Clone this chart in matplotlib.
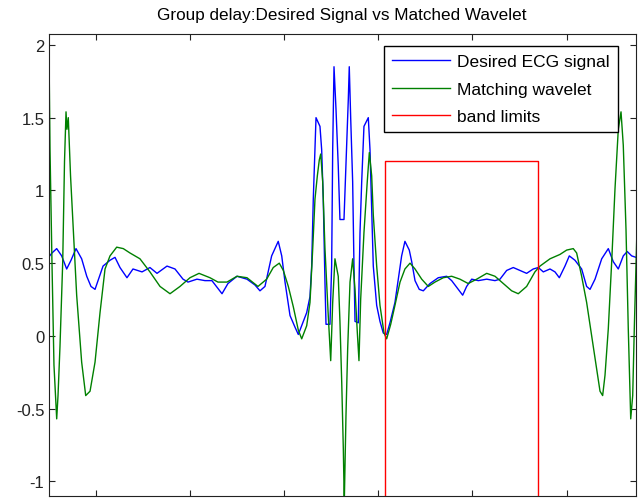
import matplotlib
matplotlib.use("Agg")
import matplotlib.pyplot as plt

plt.rcParams['font.family'] = ['Liberation Sans', 'DejaVu Sans']

# ---------- datos ----------
# frecuencia en rad (0 .. 2pi)
w_ecg = [0.000, 0.037, 0.087, 0.140, 0.193, 0.239, 0.292, 0.352, 0.406, 0.451,
         0.494, 0.547, 0.579, 0.653, 0.706, 0.759, 0.833, 0.897, 0.993, 1.077,
         1.152, 1.258, 1.343, 1.428, 1.481, 1.576, 1.661, 1.735, 1.842, 1.905,
         2.001, 2.107, 2.192, 2.245, 2.298, 2.369, 2.439, 2.476, 2.511, 2.564,
         2.617, 2.652, 2.688, 2.741, 2.776, 2.794, 2.811, 2.829, 2.840, 2.882,
         2.900, 2.917, 2.935, 2.946, 2.988, 3.006, 3.017, 3.031, 3.052, 3.076,
         3.094, 3.137, 3.158, 3.183, 3.193, 3.208, 3.229, 3.243, 3.254, 3.289,
         3.307, 3.325, 3.349, 3.395, 3.413, 3.431, 3.448, 3.484, 3.519, 3.554,
         3.590, 3.625, 3.678, 3.713, 3.749, 3.784, 3.830, 3.856, 3.891, 3.936,
         3.979, 4.050, 4.138, 4.227, 4.280, 4.350, 4.397, 4.439, 4.493, 4.563,
         4.652, 4.740, 4.793, 4.864, 4.934, 5.005, 5.076, 5.146, 5.200, 5.253,
         5.324, 5.377, 5.423, 5.483, 5.529, 5.589, 5.660, 5.713, 5.749, 5.802,
         5.873, 5.943, 5.996, 6.049, 6.102, 6.144, 6.191, 6.237]
gd_ecg = [0.54, 0.57, 0.60, 0.55, 0.46, 0.52, 0.60, 0.53, 0.41, 0.34,
          0.32, 0.42, 0.48, 0.52, 0.54, 0.47, 0.40, 0.46, 0.44, 0.47,
          0.43, 0.48, 0.46, 0.39, 0.37, 0.39, 0.38, 0.38, 0.29, 0.36,
          0.41, 0.39, 0.35, 0.31, 0.34, 0.55, 0.65, 0.55, 0.37, 0.14,
          0.06, 0.01, 0.07, 0.16, 0.27, 0.48, 0.94, 1.28, 1.50, 1.44,
          1.28, 0.94, 0.37, 0.08, 0.08, 0.48, 1.28, 1.85, 1.56, 1.17,
          0.80, 0.80, 1.17, 1.63, 1.85, 1.50, 1.06, 0.48, 0.10, 0.09,
          0.71, 1.06, 1.44, 1.50, 1.28, 0.87, 0.48, 0.21, 0.10, 0.02,
          0.01, 0.09, 0.23, 0.39, 0.55, 0.65, 0.59, 0.51, 0.38, 0.32,
          0.31, 0.36, 0.40, 0.41, 0.38, 0.32, 0.28, 0.34, 0.39, 0.38,
          0.39, 0.38, 0.39, 0.45, 0.47, 0.45, 0.43, 0.46, 0.47, 0.44,
          0.46, 0.44, 0.40, 0.48, 0.55, 0.52, 0.46, 0.34, 0.32, 0.39,
          0.53, 0.60, 0.51, 0.46, 0.55, 0.58, 0.55, 0.54]

w_wav = [0.000, 0.008, 0.016, 0.037, 0.058, 0.074, 0.087, 0.101, 0.122, 0.151,
         0.170, 0.186, 0.196, 0.210, 0.234, 0.263, 0.299, 0.352, 0.395, 0.441,
         0.494, 0.547, 0.600, 0.653, 0.724, 0.794, 0.865, 0.971, 1.077, 1.184,
         1.290, 1.396, 1.502, 1.598, 1.714, 1.799, 1.895, 2.001, 2.107, 2.224,
         2.316, 2.386, 2.450, 2.493, 2.546, 2.599, 2.652, 2.688, 2.741, 2.776,
         2.805, 2.829, 2.854, 2.875, 2.890, 2.911, 2.935, 2.970, 2.996, 3.017,
         3.041, 3.076, 3.094, 3.113, 3.130, 3.140, 3.158, 3.176, 3.201, 3.229,
         3.254, 3.278, 3.296, 3.314, 3.349, 3.384, 3.406, 3.431, 3.448, 3.484,
         3.519, 3.562, 3.590, 3.633, 3.678, 3.732, 3.784, 3.838, 3.891, 3.962,
         4.032, 4.103, 4.191, 4.280, 4.368, 4.456, 4.546, 4.652, 4.740, 4.828,
         4.917, 4.987, 5.076, 5.164, 5.218, 5.324, 5.430, 5.501, 5.571, 5.607,
         5.660, 5.713, 5.766, 5.820, 5.855, 5.883, 5.908, 5.943, 5.979, 6.014,
         6.049, 6.078, 6.102, 6.131, 6.155, 6.181, 6.202, 6.219, 6.237, 6.248]
gd_wav = [2.04, 1.78, 1.28, 0.50, -0.20, -0.41, -0.57, -0.41, -0.07, 0.51,
          1.20, 1.54, 1.42, 1.50, 1.10, 0.73, 0.28, -0.18, -0.41, -0.38,
          -0.18, 0.16, 0.46, 0.55, 0.61, 0.60, 0.57, 0.53, 0.44, 0.34,
          0.29, 0.34, 0.40, 0.43, 0.40, 0.37, 0.37, 0.41, 0.40, 0.34,
          0.39, 0.47, 0.50, 0.45, 0.34, 0.20, 0.04, -0.02, 0.07, 0.23,
          0.60, 0.94, 1.10, 1.21, 1.25, 1.06, 0.60, 0.14, -0.17, 0.23,
          0.53, 0.41, 0.10, -0.32, -0.78, -1.15, -0.55, -0.09, 0.37, 0.53,
          0.32, 0.03, -0.17, 0.25, 0.71, 1.06, 1.26, 1.10, 0.83, 0.48,
          0.21, 0.02, -0.02, 0.08, 0.21, 0.37, 0.46, 0.50, 0.46, 0.39,
          0.34, 0.37, 0.40, 0.41, 0.39, 0.36, 0.39, 0.43, 0.41, 0.36,
          0.31, 0.29, 0.34, 0.44, 0.48, 0.53, 0.56, 0.59, 0.60, 0.57,
          0.41, 0.23, 0.00, -0.23, -0.38, -0.41, -0.27, 0.05, 0.51, 1.01,
          1.42, 1.54, 1.31, 0.73, 0.05, -0.57, -0.41, 0.05, 0.50, 0.75]

# limites de banda (rectangulo)
band_w = [3.572, 3.572, 5.197, 5.197]
band_h = [-1.2, 1.2, 1.2, -1.2]

yticks = [-1, -0.5, 0, 0.5, 1, 1.5, 2]
ytick_labels = ["-1", "-0.5", "0", "0.5", "1", "1.5", "2"]
xticks = [0.5, 1.5, 2.5, 3.5, 4.5, 5.5]

# ---------- grafica ----------
fig = plt.figure(figsize=(6.39, 5.02), dpi=100)
ax = fig.add_axes([0.0759, 0.0100, 0.9194, 0.9203])

ax.plot(w_ecg, gd_ecg, color=(0, 0, 1), lw=1.0, label="Desired ECG signal")
ax.plot(w_wav, gd_wav, color=(0, 0.5, 0), lw=1.0, label="Matching wavelet")
ax.plot(band_w, band_h, color=(1, 0, 0), lw=1.0, label="band limits")

ax.set_xlim(0, 6.237)
ax.set_ylim(-1.1, 2.075)
ax.set_xticks(xticks)
ax.set_xticklabels([])
ax.set_yticks(yticks)
ax.set_yticklabels(ytick_labels)
ax.tick_params(direction="in", length=4, width=0.8, top=True, right=True,
               labelsize=12, colors="#222222", pad=3)
for s in ax.spines.values():
    s.set_color("#222222")
    s.set_linewidth(0.8)

ax.set_title("Group delay:Desired Signal vs Matched Wavelet", fontsize=12.3, pad=11)

leg = ax.legend(loc="upper right", bbox_to_anchor=(0.969, 0.974), borderaxespad=0,
                fancybox=False, framealpha=1, edgecolor="black", fontsize=12.5,
                handlelength=3.3, handletextpad=0.45, labelspacing=0.72,
                borderpad=0.45)
leg.get_frame().set_linewidth(1.0)

plt.savefig("out.png", dpi=100)
plt.close()
